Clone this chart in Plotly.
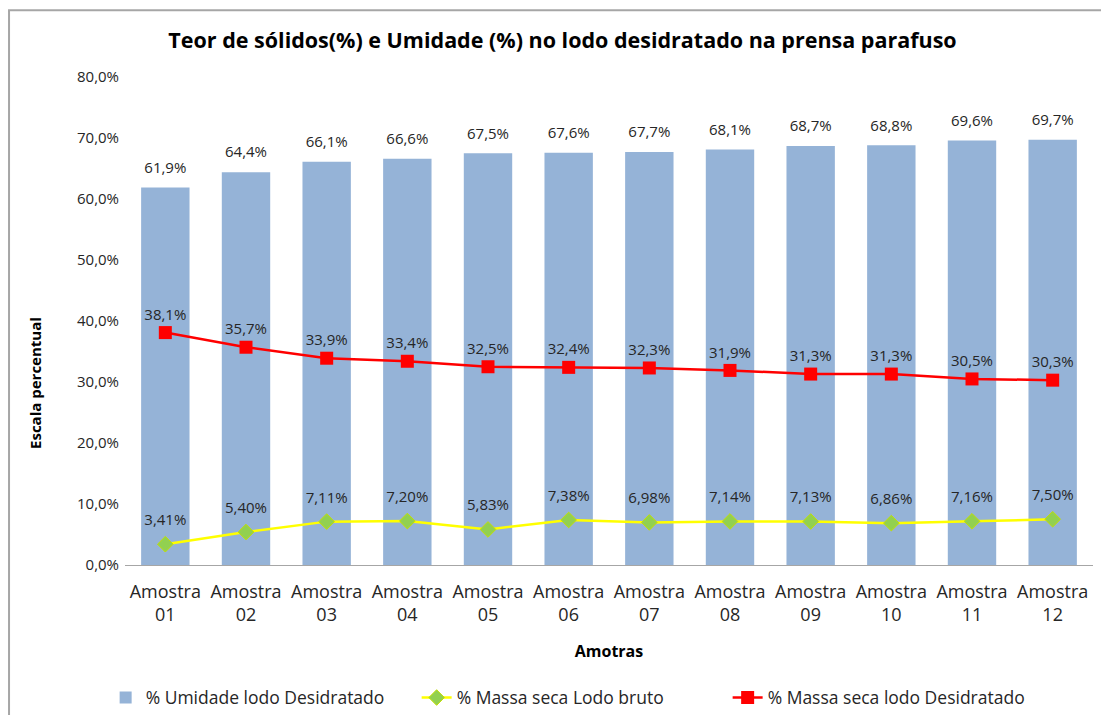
import plotly.graph_objects as go

amostras = ['Amostra<br>01', 'Amostra<br>02', 'Amostra<br>03', 'Amostra<br>04', 'Amostra<br>05', 'Amostra<br>06',
            'Amostra<br>07', 'Amostra<br>08', 'Amostra<br>09', 'Amostra<br>10', 'Amostra<br>11', 'Amostra<br>12']
umidade = [61.9, 64.4, 66.1, 66.6, 67.5, 67.6, 67.7, 68.1, 68.7, 68.8, 69.6, 69.7]
massa_bruto = [3.41, 5.40, 7.11, 7.20, 5.83, 7.38, 6.98, 7.14, 7.13, 6.86, 7.16, 7.50]
massa_desid = [38.1, 35.7, 33.9, 33.4, 32.5, 32.4, 32.3, 31.9, 31.3, 31.3, 30.5, 30.3]

fonte = 'Open Sans'
cor_texto = '#262626'

fig = go.Figure()

fig.add_trace(go.Bar(
    x=amostras, y=umidade, name='% Umidade lodo Desidratado',
    marker_color='#95B3D7', marker_line_width=0,
))

fig.add_trace(go.Scatter(
    x=amostras, y=massa_bruto, name='% Massa seca Lodo bruto',
    mode='lines+markers',
    line=dict(color='#FFFF00', width=2.5),
    marker=dict(symbol='diamond', size=12, color='#92D050', line=dict(color='#C4E000', width=1)),
))

fig.add_trace(go.Scatter(
    x=amostras, y=massa_desid, name='% Massa seca lodo Desidratado',
    mode='lines+markers+text',
    line=dict(color='#FF0000', width=2.5),
    marker=dict(symbol='square', size=13, color='#FF0000'),
    texttemplate='%{y:.1f}%', textposition='top center',
    textfont=dict(size=15, color=cor_texto), cliponaxis=False,
))

# rótulos (marcadores invisíveis só para afastar o texto do ponto)
fig.add_trace(go.Scatter(
    x=amostras, y=umidade, mode='markers+text', showlegend=False, hoverinfo='skip',
    marker=dict(size=16, opacity=0),
    texttemplate='%{y:.1f}%', textposition='top center',
    textfont=dict(size=15, color=cor_texto), cliponaxis=False,
))
fig.add_trace(go.Scatter(
    x=amostras, y=massa_bruto, mode='markers+text', showlegend=False, hoverinfo='skip',
    marker=dict(size=23, opacity=0),
    texttemplate='%{y:.2f}%', textposition='top center',
    textfont=dict(size=15, color=cor_texto), cliponaxis=False,
))

fig.update_layout(
    width=1109, height=715,
    margin=dict(l=117, r=24, t=69, b=158, autoexpand=False),
    paper_bgcolor='white', plot_bgcolor='white',
    separators=',.',
    font=dict(family=fonte, size=15, color=cor_texto),
    bargap=0.4,
    title=dict(text='<b>Teor de sólidos(%) e Umidade (%) no lodo desidratado na prensa parafuso</b>',
               x=0.5, xanchor='center', y=0.955, yanchor='middle',
               font=dict(family=fonte, size=21.5, color='black')),
    xaxis=dict(
        range=[-0.5, 11.5], autorange=False,
        showgrid=False, showline=True, linecolor='#A6A6A6', linewidth=1,
        ticks='', tickfont=dict(size=18, color=cor_texto), ticklabelstandoff=10,
        automargin=False,
        title=dict(text='<b>Amotras</b>', font=dict(size=16, color='black'), standoff=20),
    ),
    yaxis=dict(
        range=[0, 80], dtick=10, tickformat='.1f', ticksuffix='%',
        showgrid=False, zeroline=False, showline=False, automargin=False,
        tickfont=dict(size=15, color=cor_texto), ticklabelstandoff=5,
    ),
    annotations=[dict(text='<b>Escala percentual</b>', textangle=-90, showarrow=False,
                      xref='paper', yref='paper', x=-0.093, y=0.373,
                      xanchor='center', yanchor='middle',
                      font=dict(size=15, color='black'))],
    legend=dict(orientation='h', x=-0.02, xanchor='left', y=-0.235, yanchor='top',
                font=dict(size=17.5, color=cor_texto), traceorder='normal',
                entrywidth=266, entrywidthmode='pixels'),
    shapes=[dict(type='rect', xref='paper', yref='paper',
                 x0=-0.1198, x1=1.03, y0=-0.33, y1=1.137,
                 line=dict(color='#A6A6A6', width=2))],
)

fig.write_html('out.html')
